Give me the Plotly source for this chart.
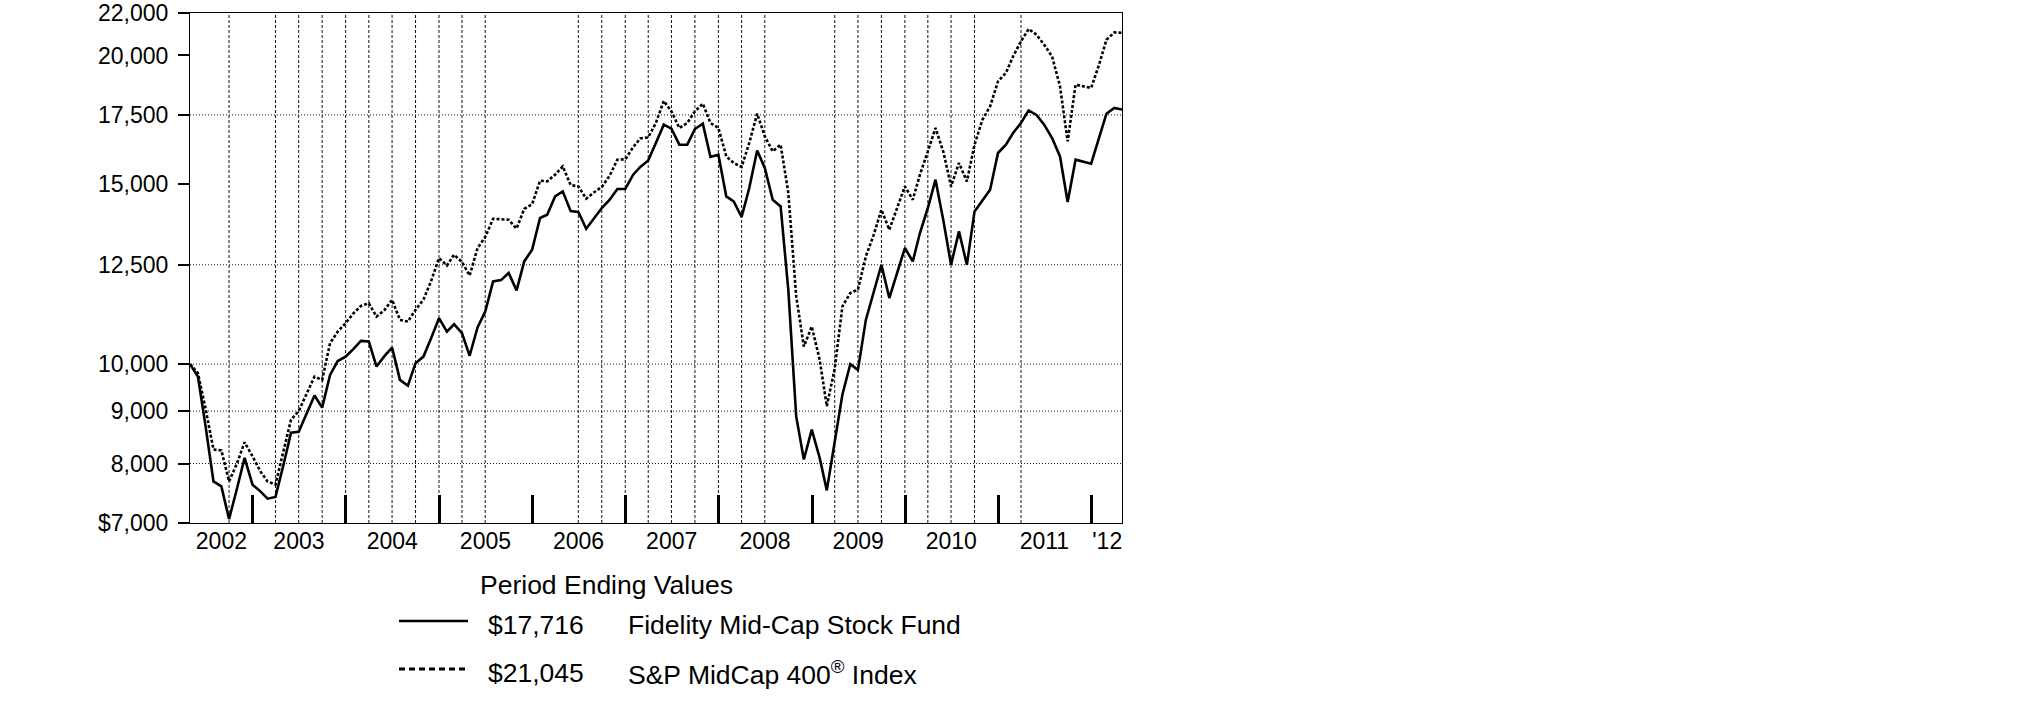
import math
import pandas as pd
import plotly.graph_objects as go

# ---------------- data ----------------
fund_values = [
    10000, 9724, 8700, 7685, 7599, 7062, 7560, 8102, 7628, 7515, 7393, 7421,
    7950, 8575, 8590, 8930, 9320, 9070, 9762, 10070, 10170, 10350, 10537, 10520,
    9946, 10180, 10380, 9653, 9528, 10022, 10171, 10601, 11087, 10758, 10937, 10721,
    10190, 10860, 11250, 12041, 12077, 12271, 11801, 12595, 12930, 13884, 13987, 14574,
    14739, 14100, 14072, 13554, 13884, 14199, 14466, 14819, 14819, 15302, 15569, 15802,
    16432, 17121, 16968, 16369, 16369, 16955, 17159, 15923, 16005, 14574, 14411, 13915,
    14852, 16160, 15534, 14466, 14250, 11819, 8893, 8072, 8632, 8102, 7532, 8440,
    9337, 10000, 9872, 11044, 11732, 12500, 11601, 12271, 12979, 12595, 13424, 14199,
    15131, 13800, 12500, 13472, 12500, 14091, 14466, 14795, 16066, 16369, 16804, 17186,
    17679, 17500, 17121, 16617, 15944, 14392, 15827, 15766, 15685, 16617, 17549, 17775,
    17716,
]
index_values = [
    10000, 9800, 9050, 8255, 8240, 7685, 8000, 8391, 8131, 7860, 7685, 7630,
    8200, 8829, 9000, 9372, 9724, 9653, 10482, 10758, 10963, 11212, 11397, 11466,
    11127, 11290, 11553, 11044, 11002, 11295, 11560, 12050, 12691, 12480, 12785, 12580,
    12200, 12979, 13300, 13860, 13850, 13831, 13560, 14170, 14320, 15100, 15074, 15302,
    15590, 14950, 14905, 14500, 14710, 14885, 15270, 15827, 15840, 16280, 16600, 16640,
    17186, 18060, 17640, 16994, 17186, 17640, 17947, 17186, 16994, 15944, 15710, 15569,
    16432, 17549, 16677, 16124, 16369, 14700, 11650, 10403, 10882, 10100, 9100, 9900,
    11380, 11732, 11819, 12737, 13373, 14145, 13524, 14199, 14905, 14466, 15302, 16124,
    16994, 16100, 14905, 15710, 15074, 16369, 17313, 17839, 18870, 19230, 19956, 20642,
    21224, 20954, 20489, 19956, 18660, 16491, 18731, 18660, 18593, 19592, 20720, 21062,
    21045,
]
months = pd.date_range("2002-04-30", periods=len(fund_values), freq=pd.offsets.MonthEnd())

fund_name = "Fidelity Mid-Cap Stock Fund"
index_name = "S&P MidCap 400<sup>®</sup> Index"
fund_end_label = "$17,716"
index_end_label = "$21,045"
legend_title = "Period Ending Values"

y_tickvals = [7000, 8000, 9000, 10000, 12500, 15000, 17500, 20000, 22000]
y_ticktext = ["$7,000", "8,000", "9,000", "10,000", "12,500", "15,000", "17,500", "20,000", "22,000"]
y_gridvals = [8000, 9000, 10000, 12500, 17500]
y_min, y_max = 7000, 22000

x_griddates = [
    "2002-09-30", "2003-03-31", "2003-06-30", "2003-09-30", "2003-12-31",
    "2004-03-31", "2004-06-30", "2004-09-30", "2004-12-31", "2005-03-31",
    "2005-06-30", "2006-06-30", "2006-09-30", "2006-12-31", "2007-03-31",
    "2007-06-30", "2007-09-30", "2007-12-31", "2008-03-31", "2008-06-30",
    "2009-03-31", "2009-06-30", "2009-09-30", "2009-12-31", "2010-03-31",
    "2010-06-30", "2010-09-30", "2011-03-31",
]
year_bounds = [f"{y}-01-01" for y in range(2003, 2013)]
year_label_dates = ["2002-08-31"] + [f"{y}-07-01" for y in range(2003, 2012)] + ["2012-03-03"]
year_labels = [str(y) for y in range(2002, 2012)] + ["'12"]

# ---------------- layout geometry (page pixels) ----------------
W, H = 2025, 717
PLOT_L, PLOT_T, PW, PH = 190, 13, 932, 510
L, T = PLOT_L, PLOT_T
R, B = W - L - PW, H - T - PH


def px_x(px):
    return (px - PLOT_L) / PW


def px_y(py):
    return (PLOT_T + PH - py) / PH


FONT = "Arial, 'Liberation Sans', sans-serif"
FS_AX = 23
FS_LEG = 26.5
DOT = "3px,2px"

fig = go.Figure()
fig.add_trace(go.Scatter(x=months, y=fund_values, mode="lines", name=fund_name,
                         line=dict(color="black", width=2.6), showlegend=False))
fig.add_trace(go.Scatter(x=months, y=index_values, mode="lines", name="S&P MidCap 400® Index",
                         line=dict(color="black", width=2.6, dash=DOT), showlegend=False))

shapes = []
for d in x_griddates:
    shapes.append(dict(type="line", xref="x", yref="paper", x0=d, x1=d, y0=0, y1=1,
                       line=dict(color="#111", width=1, dash="3px,2px"), layer="below"))
for v in y_gridvals:
    shapes.append(dict(type="line", xref="paper", yref="y", x0=0, x1=1, y0=v, y1=v,
                       line=dict(color="#111", width=1, dash="1px,2px"), layer="below"))

# legend swatches
shapes.append(dict(type="line", xref="paper", yref="paper", x0=px_x(399), x1=px_x(468),
                   y0=px_y(621), y1=px_y(621), line=dict(color="black", width=2.6)))
shapes.append(dict(type="line", xref="paper", yref="paper", x0=px_x(399), x1=px_x(468),
                   y0=px_y(669), y1=px_y(669), line=dict(color="black", width=2.8, dash="6px,4px")))

annotations = [
    dict(text=legend_title, x=px_x(606), y=px_y(585), xanchor="center", yanchor="middle"),
    dict(text=fund_end_label, x=px_x(486), y=px_y(625), xanchor="left", yanchor="middle"),
    dict(text=fund_name, x=px_x(626), y=px_y(625), xanchor="left", yanchor="middle"),
    dict(text=index_end_label, x=px_x(486), y=px_y(673), xanchor="left", yanchor="middle"),
    dict(text=index_name, x=px_x(626), y=px_y(673), xanchor="left", yanchor="middle"),
]
for a in annotations:
    a.update(xref="paper", yref="paper", showarrow=False,
             font=dict(family=FONT, size=FS_LEG, color="black"))

fig.update_layout(
    width=W, height=H,
    margin=dict(l=L, r=R, t=T, b=B, pad=0, autoexpand=False),
    paper_bgcolor="white", plot_bgcolor="white",
    font=dict(family=FONT, size=FS_AX, color="black"),
    showlegend=False,
    shapes=shapes,
    annotations=annotations,
    xaxis=dict(
        type="date", range=["2002-04-30", "2012-04-30"], automargin=False,
        showline=True, linecolor="black", linewidth=1, mirror=True,
        showgrid=False, zeroline=False,
        tickmode="array", tickvals=year_label_dates, ticktext=year_labels,
        ticks="", ticklabelstandoff=-3, ticklabeloverflow="allow",
        tickfont=dict(family=FONT, size=FS_AX, color="black"),
        minor=dict(tickmode="array", tickvals=year_bounds, ticks="inside",
                   ticklen=28, tickwidth=3, tickcolor="black", showgrid=False),
    ),
    yaxis=dict(
        type="log", range=[math.log10(y_min) - 1e-5, math.log10(y_max) + 1e-5], automargin=False,
        showline=True, linecolor="black", linewidth=1, mirror=True,
        showgrid=False, zeroline=False,
        tickmode="array", tickvals=y_tickvals, ticktext=y_ticktext,
        ticks="outside", ticklen=11, tickwidth=2.4, tickcolor="black",
        ticklabelstandoff=5, ticklabeloverflow="allow",
        tickfont=dict(family=FONT, size=FS_AX, color="black"),
    ),
)

fig.write_html("out.html", config={"displayModeBar": False},
               post_script="document.body.style.margin='0';")
